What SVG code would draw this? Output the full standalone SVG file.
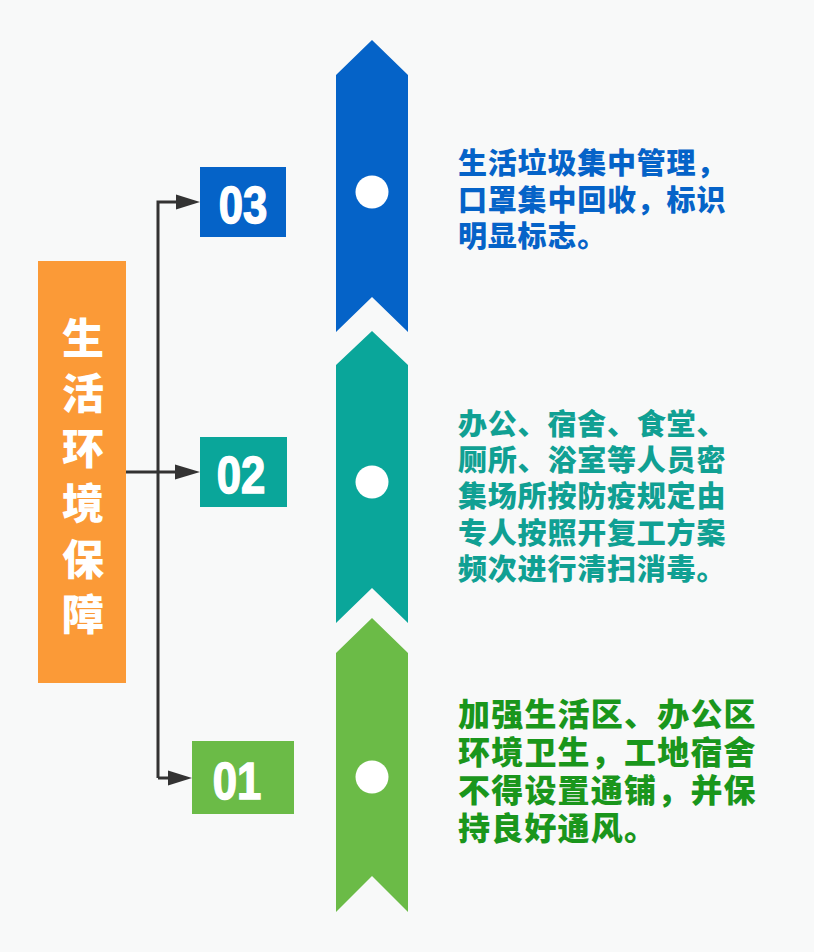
<svg xmlns="http://www.w3.org/2000/svg" width="814" height="952" viewBox="0 0 814 952">
<defs>
<style>
.bg{fill:#f8f9f9}
.num{font-family:"Liberation Sans","Arial",sans-serif;font-weight:bold;font-size:52px;fill:#ffffff;text-anchor:middle;stroke:#ffffff;stroke-width:1.5}
.title{font-family:"Noto Sans CJK SC","Noto Sans",sans-serif;font-weight:900;font-size:42px;fill:#ffffff;text-anchor:middle}
.desc{font-family:"Noto Sans CJK SC","Noto Sans",sans-serif;font-weight:900}
.conn{stroke:#333333;stroke-width:3;fill:none}
.head{fill:#333333}
.dot{fill:#ffffff}
</style>
</defs>
<rect class="bg" x="0" y="0" width="814" height="952"/>

<g id="main">
<rect x="38" y="261" width="88" height="422" fill="#fb9a37"/>
<text class="title" x="83" y="354">生</text>
<text class="title" x="83" y="409">活</text>
<text class="title" x="83" y="464">环</text>
<text class="title" x="83" y="519">境</text>
<text class="title" x="83" y="575">保</text>
<text class="title" x="83" y="630">障</text>
</g>

<g id="connectors">
<path class="conn" d="M158,778 L158,202 L176,202"/>
<path class="conn" d="M126,472 L176,472"/>
<path class="conn" d="M158,778 L169,778"/>
<path class="head" d="M176,194.5 L200,202 L176,209.5 Z"/>
<path class="head" d="M175,464.5 L200,472 L175,479.5 Z"/>
<path class="head" d="M168,770.5 L192,778 L168,785.5 Z"/>
</g>

<g id="box03">
<rect x="200" y="167" width="86" height="70" fill="#0563c8"/>
<text class="num" transform="translate(243,223) scale(0.84,1)">03</text>
</g>
<g id="box02">
<rect x="200" y="437" width="87" height="70" fill="#0aa69a"/>
<text class="num" transform="translate(241,493) scale(0.84,1)">02</text>
</g>
<g id="box01">
<rect x="192" y="741" width="102" height="73" fill="#6bbb47"/>
<text class="num" transform="translate(237,799) scale(0.84,1)">01</text>
</g>

<g id="ribbon03">
<path d="M372,40 L408,75 L408,332 L372,297 L336,332 L336,75 Z" fill="#0563c8"/>
<circle class="dot" cx="372" cy="192" r="16.5"/>
</g>
<g id="ribbon02">
<path d="M372,331 L408,365 L408,623 L372,588 L336,623 L336,365 Z" fill="#0aa69a"/>
<circle class="dot" cx="372" cy="482" r="16.5"/>
</g>
<g id="ribbon01">
<path d="M372,618 L408,653 L408,912 L372,876 L336,912 L336,653 Z" fill="#6bbb47"/>
<circle class="dot" cx="372" cy="777" r="16.5"/>
</g>

<g id="text03" class="desc" font-size="29" fill="#0563c8" letter-spacing="0.8">
<text x="458" y="174">生活垃圾集中管理，</text>
<text x="458" y="211">口罩集中回收，标识</text>
<text x="458" y="247">明显标志。</text>
</g>
<g id="text02" class="desc" font-size="29" fill="#10a093" letter-spacing="0.8">
<text x="458" y="435">办公、宿舍、食堂、</text>
<text x="458" y="471">厕所、浴室等人员密</text>
<text x="458" y="507">集场所按防疫规定由</text>
<text x="458" y="544">专人按照开复工方案</text>
<text x="458" y="580">频次进行清扫消毒。</text>
</g>
<g id="text01" class="desc" font-size="32" fill="#1a961c" letter-spacing="1.2">
<text x="458" y="726">加强生活区、办公区</text>
<text x="458" y="764">环境卫生，工地宿舍</text>
<text x="458" y="802">不得设置通铺，并保</text>
<text x="458" y="840">持良好通风。</text>
</g>
</svg>
